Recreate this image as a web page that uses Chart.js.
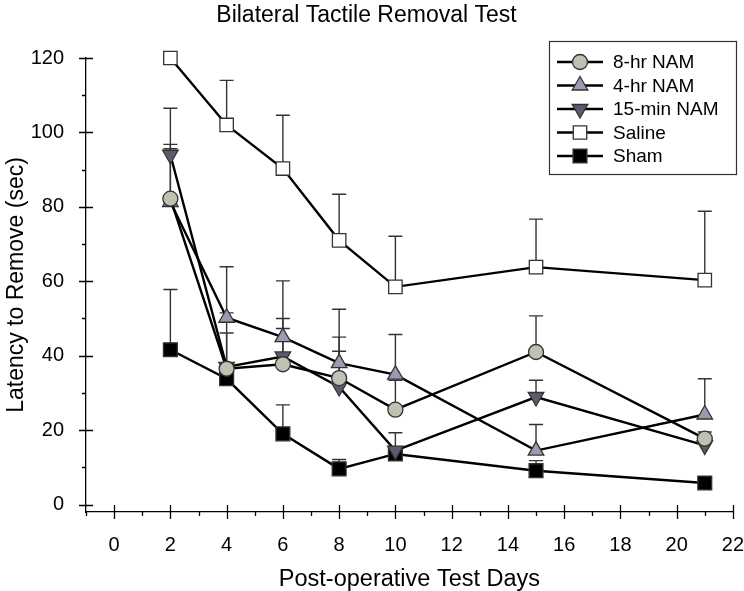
<!DOCTYPE html>
<html>
<head>
<meta charset="utf-8">
<script src="https://cdn.jsdelivr.net/npm/chart.js@4"></script>
<style>
html, body { margin: 0; padding: 0; background: #fff; }
</style>
</head>
<body>
<canvas id="chart" width="744" height="591"></canvas>
<script>
// test days (x values)
const days = [2, 4, 6, 8, 10, 15, 21];

// group means
const nam8hr = [82.2, 36.5, 37.7, 34.0, 25.5, 41.0, 17.7];
const nam4hr = [81.3, 50.2, 45.0, 38.0, 34.9, 14.5, 24.2];
const nam15min = [94.0, 37.0, 39.8, 31.6, 14.5, 28.9, 15.9];
const saline = [120.0, 102.0, 90.3, 71.0, 58.5, 63.8, 60.3];
const sham = [41.6, 33.8, 19.0, 9.6, 13.6, 9.1, 5.8];

// upper error bars (only the top half is drawn)
const nam8hrErr = [14.6, 9.6, 9.6, 11.0, 7.9, 9.7, 1.8];
const nam4hrErr = [14.3, 13.7, 15.1, 14.5, 10.8, 7.0, 9.6];
const nam15minErr = [12.5, 14.5, 10.2, 9.6, 1.0, 4.5, 2.1];
const salineErr = [0, 12.0, 14.3, 12.4, 13.6, 12.9, 18.5];
const shamErr = [16.2, 1.2, 7.8, 2.5, 5.7, 2.7, 0.7];

const seriesNames = ['8-hr NAM', '4-hr NAM', '15-min NAM', 'Saline', 'Sham'];
const xTickValues = [0, 2, 4, 6, 8, 10, 12, 14, 16, 18, 20, 22];
const xMinorValues = [-1, 1, 3, 5, 7, 9, 11, 13, 15, 17, 19, 21];
const yTickValues = [0, 20, 40, 60, 80, 100, 120];
const yMinorValues = [10, 30, 50, 70, 90, 110];

const FONT = '"Liberation Sans", Arial, sans-serif';

function makeSet(label, values, errs, style, fill, radius, rotation) {
    return {
        label: label,
        data: days.map((d, i) => ({ x: d, y: values[i] })),
        errors: errs,
        clip: false,
        borderColor: '#000',
        borderWidth: 2.4,
        pointStyle: style,
        pointRotation: rotation || 0,
        pointRadius: radius,
        pointHoverRadius: radius,
        pointBackgroundColor: fill,
        pointBorderColor: '#333',
        pointBorderWidth: 1.3,
        tension: 0,
        fill: false
    };
}

const datasets = [
    makeSet(seriesNames[0], nam8hr, nam8hrErr, 'circle', '#c0c1b3', 7.5),
    makeSet(seriesNames[1], nam4hr, nam4hrErr, 'triangle', '#9a9ab3', 9),
    makeSet(seriesNames[2], nam15min, nam15minErr, 'triangle', '#5b5b6b', 9, 180),
    makeSet(seriesNames[3], saline, salineErr, 'rect', '#fff', 9.5),
    makeSet(seriesNames[4], sham, shamErr, 'rect', '#000', 9.8)
];

//error bars go under the lines and markers
const errorBars = {
    id: 'errorBars',
    beforeDatasetsDraw(chart) {
        const ctx = chart.ctx;
        const xs = chart.scales.x, ys = chart.scales.y;
        ctx.save();
        ctx.strokeStyle = '#333';
        ctx.lineWidth = 1.4;
        chart.data.datasets.forEach(ds => {
            ds.data.forEach((p, i) => {
                const e = ds.errors[i];
                if (!e) return;
                const x = xs.getPixelForValue(p.x);
                const y0 = ys.getPixelForValue(p.y);
                const y1 = ys.getPixelForValue(p.y + e);
                ctx.beginPath();
                ctx.moveTo(x, y0);
                ctx.lineTo(x, y1);
                ctx.moveTo(x - 7, y1);
                ctx.lineTo(x + 7, y1);
                ctx.stroke();
            });
        });
        ctx.restore();
    }
};

//tick marks that cross the axis lines
const axisTicks = {
    id: 'axisTicks',
    afterDraw(chart) {
        const ctx = chart.ctx;
        const xs = chart.scales.x, ys = chart.scales.y;
        const area = chart.chartArea;
        ctx.save();
        ctx.strokeStyle = '#000';
        ctx.lineWidth = 1.3;
        ctx.beginPath();
        xTickValues.forEach(v => {
            const x = Math.round(xs.getPixelForValue(v)) + 0.5;
            ctx.moveTo(x, area.bottom - 7);
            ctx.lineTo(x, area.bottom + 7);
        });
        xMinorValues.forEach(v => {
            const x = Math.round(xs.getPixelForValue(v)) + 0.5;
            ctx.moveTo(x, area.bottom);
            ctx.lineTo(x, area.bottom + 4);
        });
        yTickValues.forEach(v => {
            const y = Math.round(ys.getPixelForValue(v)) + 0.5;
            ctx.moveTo(area.left - 7, y);
            ctx.lineTo(area.left + 7, y);
        });
        yMinorValues.forEach(v => {
            const y = Math.round(ys.getPixelForValue(v)) + 0.5;
            ctx.moveTo(area.left - 4, y);
            ctx.lineTo(area.left, y);
        });
        ctx.stroke();
        ctx.restore();
    }
};

//boxed legend inside the top right corner
const boxLegend = {
    id: 'boxLegend',
    afterDraw(chart) {
        const ctx = chart.ctx;
        const left = 549, top = 41, w = 187, h = 133;
        ctx.save();
        ctx.fillStyle = '#fff';
        ctx.fillRect(left, top, w, h);
        ctx.strokeStyle = '#333';
        ctx.lineWidth = 1.2;
        ctx.strokeRect(left + 0.5, top + 0.5, w, h);
        chart.data.datasets.forEach((ds, i) => {
            const y = top + 21 + i * 23.5;
            ctx.strokeStyle = '#000';
            ctx.lineWidth = 2.4;
            ctx.beginPath();
            ctx.moveTo(left + 8, y);
            ctx.lineTo(left + 54, y);
            ctx.stroke();
            ctx.fillStyle = ds.pointBackgroundColor;
            ctx.strokeStyle = ds.pointBorderColor;
            ctx.lineWidth = ds.pointBorderWidth;
            Chart.helpers.drawPoint(ctx, {
                pointStyle: ds.pointStyle,
                rotation: ds.pointRotation,
                radius: ds.pointRadius,
                borderWidth: ds.pointBorderWidth
            }, left + 31, y);
            ctx.fillStyle = '#000';
            ctx.font = '19px ' + FONT;
            ctx.textBaseline = 'middle';
            ctx.fillText(ds.label, left + 64, y + 1);
        });
        ctx.restore();
    }
};

const ctx = document.getElementById('chart').getContext('2d');
new Chart(ctx, {
    type: 'line',
    data: { datasets: datasets },
    plugins: [errorBars, axisTicks, boxLegend],
    options: {
        responsive: false,
        animation: false,
        layout: { padding: { left: 0, right: 11, top: 0, bottom: 0 } },
        plugins: {
            legend: { display: false },
            tooltip: { enabled: false },
            title: {
                display: true,
                text: 'Bilateral Tactile Removal Test',
                color: '#000',
                font: { family: FONT, size: 23, weight: 'normal' },
                padding: { top: 2, bottom: 28.4 }
            }
        },
        scales: {
            x: {
                type: 'linear',
                min: -1,
                max: 22,
                afterBuildTicks: s => { s.ticks = xTickValues.map(v => ({ value: v })); },
                afterFit: s => { s.height = 79; s.paddingLeft = 0; s.paddingRight = 0; },
                grid: { display: false },
                border: { display: true, color: '#000', width: 1.3 },
                ticks: {
                    color: '#000',
                    font: { family: FONT, size: 20 },
                    padding: 13,
                    maxRotation: 0
                },
                title: {
                    display: true,
                    text: 'Post-operative Test Days',
                    color: '#000',
                    font: { family: FONT, size: 23.5, lineHeight: 1 },
                    padding: { top: 0, bottom: 0 }
                }
            },
            y: {
                type: 'linear',
                min: -2,
                max: 120,
                afterBuildTicks: s => { s.ticks = yTickValues.map(v => ({ value: v })); },
                afterFit: s => { s.width = 86; s.paddingTop = 0; s.paddingBottom = 0; },
                grid: { display: false },
                border: { display: true, color: '#000', width: 1.3 },
                ticks: {
                    color: '#000',
                    font: { family: FONT, size: 20 },
                    padding: 14
                },
                title: {
                    display: true,
                    text: 'Latency to Remove (sec)',
                    color: '#000',
                    font: { family: FONT, size: 23 },
                    padding: { top: 3, bottom: 0 }
                }
            }
        }
    }
});
</script>
</body>
</html>
